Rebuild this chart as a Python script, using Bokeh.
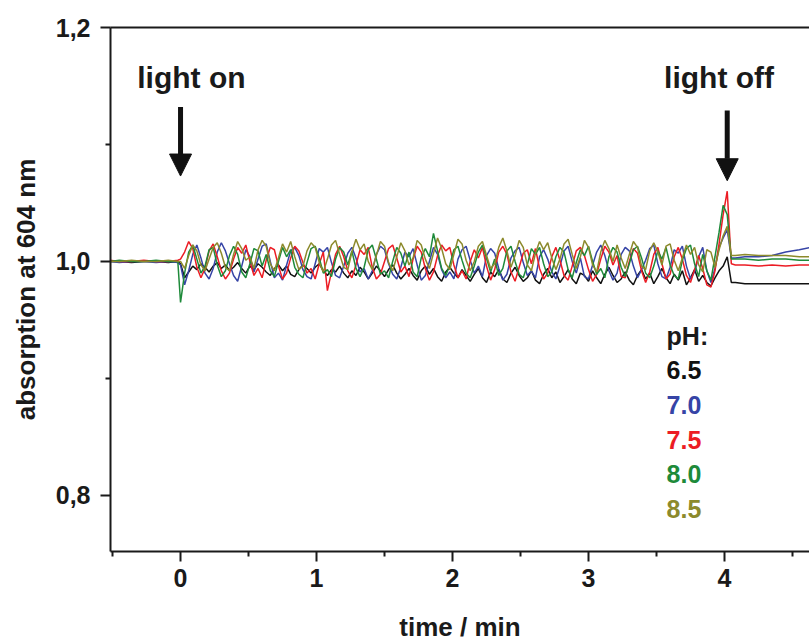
import numpy as np
from bokeh.plotting import figure
from bokeh.models import (Range1d, FixedTicker, LinearAxis, Arrow, NormalHead, Label)
from bokeh.embed import file_html
from bokeh.resources import INLINE

# ---------------- data (absorption deviations from 1.000, in units of 0.001) -------------
ph_labels = ["6.5", "7.0", "7.5", "8.0", "8.5"]
colors = ["#111111", "#3644a6", "#ec1c24", "#1e8a3a", "#8c8a2c"]

# time points before light on (min)
t_pre = [-0.52, -0.45, -0.36, -0.27, -0.18, -0.09, -0.02]
# time points while light is on (min): 0.00 .. 4.05 every 0.03
t_on = list(np.round(np.arange(0, 4.0501, 0.03), 2))
# time points after light off (min)
t_post = [4.08, 4.15, 4.25, 4.35, 4.45, 4.55, 4.63]

pre = {
    "6.5": [0, 0, -1, 0, 0, -1, 0],
    "7.0": [0, -1, 0, 0, -1, 0, -1],
    "7.5": [1, 0, 0, 1, 0, 0, 1],
    "8.0": [0, 1, 0, 0, 1, 0, 0],
    "8.5": [0, 0, 1, 0, 0, 1, 0],
}

on = {
    "6.5": [-2, -14, -9, -4, -7, -2, -5, -9, -4, -1,
            -6, -3, -8, -5, -1, -6, -10, -4, -7, -2,
            -5, -9, -12, -6, -3, -8, -4, -11, -13, -7,
            -3, -6, -10, -5, -2, -8, -12, -7, -9, -4,
            -10, -14, -8, -12, -5, -9, -15, -10, -4, -8,
            -13, -7, -3, -10, -15, -11, -6, -12, -16, -8,
            -4, -11, -6, -13, -17, -9, -5, -10, -14, -7,
            -12, -17, -11, -6, -14, -18, -9, -13, -7, -15,
            -18, -10, -5, -12, -17, -14, -8, -16, -19, -11,
            -6, -14, -9, -18, -13, -7, -15, -19, -10, -12,
            -17, -8, -14, -19, -11, -5, -12, -18, -15, -9,
            -16, -20, -12, -7, -15, -10, -19, -13, -6, -14,
            -19, -11, -16, -8, -20, -14, -7, -17, -12, -18,
            -21, -14, -8, -4, 4, -18],
    "7.0": [-3, -20, -8, 6, 14, 3, -10, -15, -6, 8,
            16, 9, -2, -12, -17, -4, 10, 4, -9, 2,
            13, 15, 0, -14, -10, -16, -3, 9, 12, 5,
            -7, -13, -15, -2, 11, 8, 12, -1, -12, -14,
            -4, 7, 12, 3, -9, -6, -15, -8, 6, 13,
            10, -2, -11, -15, -5, 8, 4, 11, -3, -16,
            -12, 0, 12, 6, -7, -14, -9, -15, 2, 10,
            13, 1, -10, -4, -13, 5, 11, 7, -6, -16,
            -11, 3, 9, 12, -1, -12, -8, -14, 4, 10,
            2, -9, -15, -4, 9, 13, 0, -10, 3, -13,
            -15, -3, 8, 14, 5, -8, -16, -10, 6, 12,
            9, -4, -14, -7, 1, 11, 14, -2, -13, -15,
            -5, 10, 7, 13, -4, -15, -9, 4, 12, -8,
            -18, -6, 12, 20, 27, 3],
    "7.5": [2, 8, 17, 11, -5, -14, -6, 9, 15, 4,
            -8, -15, -10, 2, 12, 7, 14, 0, -12, -6,
            -14, 1, 12, 10, -4, -15, -10, 3, 13, 9,
            -1, -10, -6, -15, -2, 8, -25, -9, 6, 13,
            4, -8, -14, -3, 10, 6, 12, -5, -15, -11,
            0, 11, 14, 3, -9, -4, -13, 2, 13, 8,
            -6, -16, -9, 5, 14, 9, 12, -3, -14, -8,
            -15, 0, 10, 3, 12, -4, -16, -7, 8, 13,
            6, -9, -17, -5, 7, 10, -2, 11, -6, -15,
            -10, 4, 12, 1, -12, -16, -4, 9, 12, 5,
            -7, -17, -11, 2, 13, 8, -3, 5, -13, -14,
            0, 11, 7, -8, -18, -9, 6, 12, -2, -15,
            -11, 4, 12, 2, -12, -18, -7, 5, -6, -20,
            -22, -8, 15, 40, 60, -2],
    "8.0": [-35, -10, 8, 14, 2, -10, -4, 10, 12, -3,
            -13, -8, 5, 13, 6, -9, -14, -2, 11, 9,
            -4, 6, -8, -13, 0, 12, 4, 10, -5, -11,
            -14, -1, 11, 13, 3, -10, -7, -13, 2, 12,
            8, -3, 9, -6, -13, -5, 10, 14, 2, -11,
            -8, -14, 0, 12, 7, -4, 8, -9, -13, 3,
            11, 4, 24, 9, -6, -12, -3, 10, 13, 1,
            -10, -14, -4, 8, 14, 3, -9, 2, -12, -6,
            9, 13, 0, -11, -14, -3, 11, 6, 12, -2,
            -13, -9, 4, 12, 8, -7, -14, -1, 10, 5,
            13, 0, -11, -6, -14, 4, 12, 8, -5, -13,
            -2, 10, 13, 3, -10, -14, -4, 9, 2, 12,
            -3, -12, -15, 1, 11, 14, -2, -13, 6, -8,
            -16, 4, 25, 48, 40, 2],
    "8.5": [0, -6, 5, 14, 9, -3, -8, 2, 12, 16,
            7, -5, -8, 6, 17, 11, 1, 4, -6, 10,
            18, 13, -2, -8, 3, 15, 8, 17, 4, -7,
            -4, 9, 16, 12, -1, -9, 2, 14, 18, 6,
            -5, -7, 8, 19, 10, 15, 0, -7, 5, 17,
            13, -1, -8, 4, 16, 9, -3, 3, 18, 14,
            2, -6, 7, 20, 11, -2, -7, 6, 19, 15,
            1, -8, 0, 13, 17, 5, -6, -2, 12, 20,
            9, -5, 5, 18, 12, -3, -8, 7, 17, 10,
            16, 3, -7, 2, 15, 19, 6, -6, 4, 18,
            12, -3, -9, 8, 18, 11, 0, 14, 3, -6,
            6, 17, 12, -4, -7, 9, 16, 8, -3, 13,
            15, 1, -8, 3, 14, 6, 12, -3, -9, 10,
            8, -5, 10, 22, 30, 5],
}

post = {
    "6.5": [-18, -19, -19, -19, -19, -19, -19],
    "7.0": [3, 4, 4, 5, 8, 10, 12],
    "7.5": [-3, -3, -4, -3, -4, -3, -3],
    "8.0": [2, 2, 1, 2, 2, 1, 1],
    "8.5": [5, 6, 5, 5, 5, 4, 4],
}

ticks_x = [0, 1, 2, 3, 4]
minor_x = [-0.5, 0.5, 1.5, 2.5, 3.5, 4.5]
ticks_y = [0.8, 1.0, 1.2]
minor_y = [0.9, 1.1]
tick_labels_y = {0.8: "0,8", 1.0: "1,0", 1.2: "1,2"}

FONT = "Liberation Sans"
TXT = "#1a1a1a"

p = figure(width=809, height=644, x_range=Range1d(-0.515, 4.625), y_range=Range1d(0.752, 1.2),
           output_backend="svg", toolbar_location=None,
           min_border_left=110, min_border_right=0, min_border_top=27, min_border_bottom=93)
p.grid.visible = False
p.outline_line_color = None
p.background_fill_color = "white"
p.border_fill_color = "white"

t_all = np.array(t_pre + t_on + t_post)
for lab, col in zip(ph_labels, colors):
    dev = np.array(pre[lab] + on[lab] + post[lab], dtype=float)
    n = min(len(dev), len(t_all))
    p.line(t_all[:n], 1.0 + dev[:n] / 1000.0, line_color=col, line_width=1.5)

# axes styling
for ax in (p.xaxis[0], p.yaxis[0]):
    ax.axis_line_width = 2
    ax.axis_line_color = "#1a1a1a"
    ax.major_tick_line_width = 2
    ax.minor_tick_line_width = 2
    ax.major_tick_line_color = "#1a1a1a"
    ax.minor_tick_line_color = "#1a1a1a"
    ax.major_tick_in = 0
    ax.major_tick_out = 10
    ax.minor_tick_in = 0
    ax.minor_tick_out = 5
    ax.major_label_text_font = FONT
    ax.major_label_text_font_style = "bold"
    ax.major_label_text_font_size = "25px"
    ax.major_label_text_color = TXT
    ax.axis_label_text_font = FONT
    ax.axis_label_text_font_style = "bold"
    ax.axis_label_text_font_size = "26px"
    ax.axis_label_text_color = TXT

p.xaxis[0].ticker = FixedTicker(ticks=ticks_x, minor_ticks=minor_x)
p.yaxis[0].ticker = FixedTicker(ticks=ticks_y, minor_ticks=minor_y)
p.yaxis[0].major_label_overrides = tick_labels_y
p.xaxis[0].axis_label = "time / min"
p.yaxis[0].axis_label = "absorption at 604 nm"
p.xaxis[0].major_label_standoff = 7
p.xaxis[0].axis_label_standoff = 22
p.yaxis[0].major_label_standoff = 10
p.yaxis[0].axis_label_standoff = 12

# top frame line
top = LinearAxis(ticker=FixedTicker(ticks=[]), major_label_text_font_size="0px",
                 axis_line_width=2, axis_line_color="#1a1a1a",
                 major_tick_line_color=None, minor_tick_line_color=None)
p.add_layout(top, "above")

# arrows and annotations
for xa, y0, y1 in [(0.0, 1.132, 1.073), (4.02, 1.129, 1.069)]:
    p.add_layout(Arrow(end=NormalHead(size=22, fill_color="#111111", line_color="#111111"),
                       x_start=xa, y_start=y0, x_end=xa, y_end=y1,
                       line_width=5, line_color="#111111"))

for txt, xx in [("light on", 0.08), ("light off", 3.96)]:
    p.add_layout(Label(x=xx, y=1.157, text=txt, text_align="center", text_baseline="alphabetic",
                       text_font=FONT, text_font_style="bold", text_font_size="30px",
                       text_color=TXT))

legend_y = [0.9366, 0.9075, 0.8775, 0.8475, 0.8184, 0.7884]
for txt, yy, col in zip(["pH:"] + ph_labels, legend_y, [TXT] + colors):
    p.add_layout(Label(x=3.574, y=yy, text=txt, text_align="left", text_baseline="alphabetic",
                       text_font=FONT, text_font_style="bold", text_font_size="25px",
                       text_color=col))

open("out.html", "w").write(file_html(p, INLINE))
